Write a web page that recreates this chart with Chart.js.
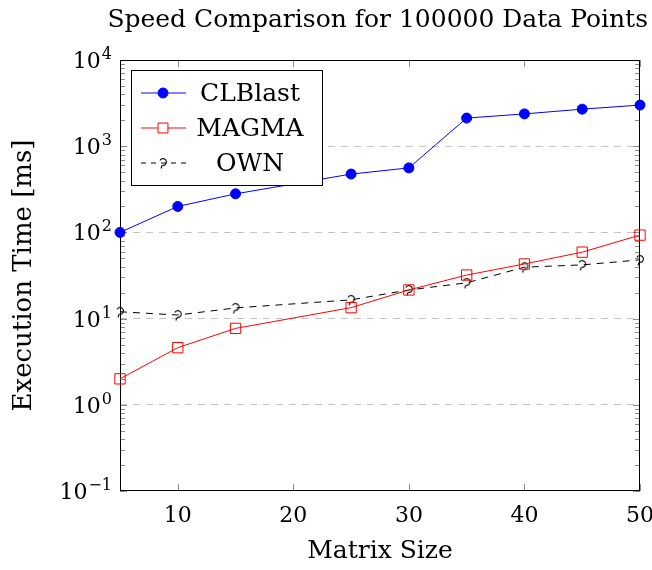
<!DOCTYPE html>
<html>
<head>
<meta charset="utf-8">
<script src="https://cdn.jsdelivr.net/npm/chart.js@4"></script>
<style>
  html, body { margin: 0; padding: 0; background: #fff; }
</style>
</head>
<body>
<canvas id="SpeedChart" width="652" height="570"></canvas>
<script>
// values (ms, log axis)
var matrixSizes = [5, 10, 15, 20, 25, 30, 35, 40, 45, 50];
var clblastMs = [100, 200, 280, null, 475, 560, 2120, 2370, 2690, 3000];
var magmaMs = [2.0, 4.6, 7.7, null, 13.4, 21.5, 32, 43, 59, 93];
var ownMs = [12, 11, 13.3, null, 16.5, 21.5, 26, 39.5, 42, 48];
var xTickValues = [10, 20, 30, 40, 50];
var yPowers = [-1, 0, 1, 2, 3, 4];
var yExpLabels = ['\u22121', '0', '1', '2', '3', '4'];

var serif = "'DejaVu Serif', serif";
Chart.defaults.font.family = serif;
Chart.defaults.color = '#000';

function pairs(ys) {
  return matrixSizes
    .map(function (x, i) { return { x: x, y: ys[i] }; })
    .filter(function (p) { return p.y !== null; });
}

// the odd curly mark pgfplots drew for OWN
function ownMark() {
  var c = document.createElement('canvas');
  c.width = 12; c.height = 14;
  var g = c.getContext('2d');
  g.strokeStyle = '#000';
  g.lineWidth = 1.1;
  g.beginPath();
  g.arc(6, 6, 3.4, Math.PI * 1.15, Math.PI * 0.55);
  g.stroke();
  g.beginPath();
  g.moveTo(5.2, 9.3);
  g.lineTo(4, 12.5);
  g.stroke();
  return c;
}

function isPow10(v) {
  var l = Math.log10(v);
  return Math.abs(l - Math.round(l)) < 1e-9;
}

// frame + inward ticks like pgfplots
var axisFrame = {
  id: 'axisFrame',
  beforeDatasetsDraw: function (chart) {
    var ctx = chart.ctx, a = chart.chartArea;
    var xs = chart.scales.x, ys = chart.scales.y;
    ctx.save();
    ctx.lineWidth = 1;
    ctx.strokeStyle = '#8c8c8c';
    function seg(x1, y1, x2, y2) {
      ctx.beginPath(); ctx.moveTo(x1, y1); ctx.lineTo(x2, y2); ctx.stroke();
    }
    for (var p = yPowers[0]; p < yPowers[yPowers.length - 1]; p++) {
      for (var k = 1; k <= 9; k++) {
        var y = Math.round(ys.getPixelForValue(k * Math.pow(10, p))) + 0.5;
        var len = k === 1 ? 7 : 5;
        seg(a.left, y, a.left + len, y);
        seg(a.right, y, a.right - len, y);
      }
    }
    xTickValues.forEach(function (v) {
      var x = Math.round(xs.getPixelForValue(v)) + 0.5;
      seg(x, a.bottom, x, a.bottom - 7);
      seg(x, a.top, x, a.top + 7);
    });
    ctx.strokeStyle = '#000';
    ctx.strokeRect(a.left + 0.5, a.top + 0.5, a.right - a.left - 1, a.bottom - a.top - 1);
    ctx.restore();
  },
  afterDraw: function (chart) {
    // 10^n labels with raised exponent
    var ctx = chart.ctx, a = chart.chartArea, ys = chart.scales.y;
    ctx.save();
    ctx.fillStyle = '#000';
    ctx.textBaseline = 'alphabetic';
    ctx.textAlign = 'right';
    yPowers.forEach(function (p, i) {
      var y = ys.getPixelForValue(Math.pow(10, p));
      var right = a.left - 8;
      ctx.font = '16px ' + serif;
      var ew = ctx.measureText(yExpLabels[i]).width;
      ctx.fillText(yExpLabels[i], right, y - 1);
      ctx.font = '22px ' + serif;
      ctx.fillText('10', right - ew - 1, y + 8);
    });
    ctx.restore();
  }
};

var legendBox = {
  id: 'legendBox',
  afterDraw: function (chart) {
    var ctx = chart.ctx, a = chart.chartArea;
    var left = a.left + 11, top = a.top + 10, w = 191, h = 115;
    ctx.save();
    ctx.fillStyle = '#fff';
    ctx.fillRect(left, top, w, h);
    ctx.strokeStyle = '#000';
    ctx.lineWidth = 1;
    ctx.strokeRect(left + 0.5, top + 0.5, w, h);
    chart.data.datasets.forEach(function (ds, i) {
      var y = top + 23 + i * 35;
      ctx.globalAlpha = 0.65;
      ctx.strokeStyle = ds.borderColor;
      ctx.lineWidth = 1.5;
      ctx.setLineDash(ds.borderDash ? [5, 5] : []);
      ctx.beginPath(); ctx.moveTo(left + 10, y); ctx.lineTo(left + 55, y); ctx.stroke();
      ctx.setLineDash([]);
      ctx.globalAlpha = 1;
      ctx.fillStyle = ds.pointBackgroundColor;
      ctx.strokeStyle = ds.pointBorderColor;
      ctx.lineWidth = ds.pointBorderWidth;
      if (ds.pointStyle === 'rect') {
        ctx.fillStyle = '#fff';
        ctx.fillRect(left + 27, y - 5, 10, 10);
      }
      Chart.helpers.drawPoint(ctx, {
        pointStyle: ds.pointStyle, radius: ds.pointStyle === 'rect' ? 7 : ds.pointRadius,
        borderWidth: ds.pointBorderWidth, rotation: 0
      }, left + 32, y);
      ctx.fillStyle = '#000';
      ctx.font = '25px ' + serif;
      ctx.textAlign = 'center';
      ctx.textBaseline = 'middle';
      ctx.fillText(ds.label, left + 119, y + 1);
    });
    ctx.restore();
  }
};

var cv = document.getElementById('SpeedChart');
var speedChart = new Chart(cv, {
  type: 'line',
  data: {
    datasets: [{
      label: 'CLBlast',
      data: pairs(clblastMs),
      borderColor: '#0000ff',
      borderWidth: 1,
      pointStyle: 'circle',
      pointRadius: 5,
      pointBorderWidth: 1,
      pointBackgroundColor: '#0000ff',
      pointBorderColor: '#0000ff',
      clip: false
    }, {
      label: 'MAGMA',
      data: pairs(magmaMs),
      borderColor: '#ff0000',
      borderWidth: 1,
      pointStyle: 'rect',
      pointRadius: 7.3,
      pointBorderWidth: 1,
      pointBackgroundColor: 'rgba(0,0,0,0)',
      pointBorderColor: '#ff0000',
      clip: false
    }, {
      label: 'OWN',
      data: pairs(ownMs),
      borderColor: '#000',
      borderWidth: 1,
      borderDash: [7, 6],
      pointStyle: ownMark(),
      pointRadius: 6,
      pointBorderWidth: 0,
      pointBackgroundColor: '#000',
      pointBorderColor: '#000',
      clip: false
    }]
  },
  options: {
    responsive: false,
    animation: false,
    devicePixelRatio: 1,
    layout: { padding: { right: 4 } },
    plugins: {
      legend: { display: false },
      tooltip: { enabled: false },
      title: {
        display: true,
        align: 'end',
        text: 'Speed Comparison for 100000 Data Points',
        color: '#000',
        font: { size: 25, weight: 'normal' },
        padding: { top: 5, bottom: 25 }
      }
    },
    scales: {
      x: {
        type: 'linear',
        min: 5,
        max: 50,
        afterBuildTicks: function (s) {
          s.ticks = xTickValues.map(function (v) { return { value: v }; });
        },
        afterFit: function (s) {
          s.height = 79;
          s.paddingLeft = 0;
          s.paddingRight = 12;
        },
        grid: { display: false },
        border: { display: false },
        ticks: { color: '#000', font: { size: 22 }, padding: 4, maxRotation: 0 },
        title: {
          display: true,
          text: 'Matrix Size',
          color: '#000',
          font: { size: 25 },
          padding: { top: 0, bottom: 4 }
        }
      },
      y: {
        type: 'logarithmic',
        min: 0.1,
        max: 10000,
        afterFit: function (s) {
          s.width = 120;
          s.paddingTop = 0;
          s.paddingBottom = 0;
        },
        ticks: { display: false },
        grid: {
          drawTicks: false,
          lineWidth: 1,
          color: function (c) {
            var v = c.tick && c.tick.value;
            if (v && isPow10(v) && v > 0.1 && v < 10000) return '#c4c4c4';
            return 'rgba(0,0,0,0)';
          }
        },
        border: { display: false, dash: [7, 6] },
        title: {
          display: true,
          text: 'Execution Time [ms]',
          color: '#000',
          font: { size: 26 },
          padding: { top: 9, bottom: 0 }
        }
      }
    }
  },
  plugins: [axisFrame, legendBox]
});
</script>
</body>
</html>
